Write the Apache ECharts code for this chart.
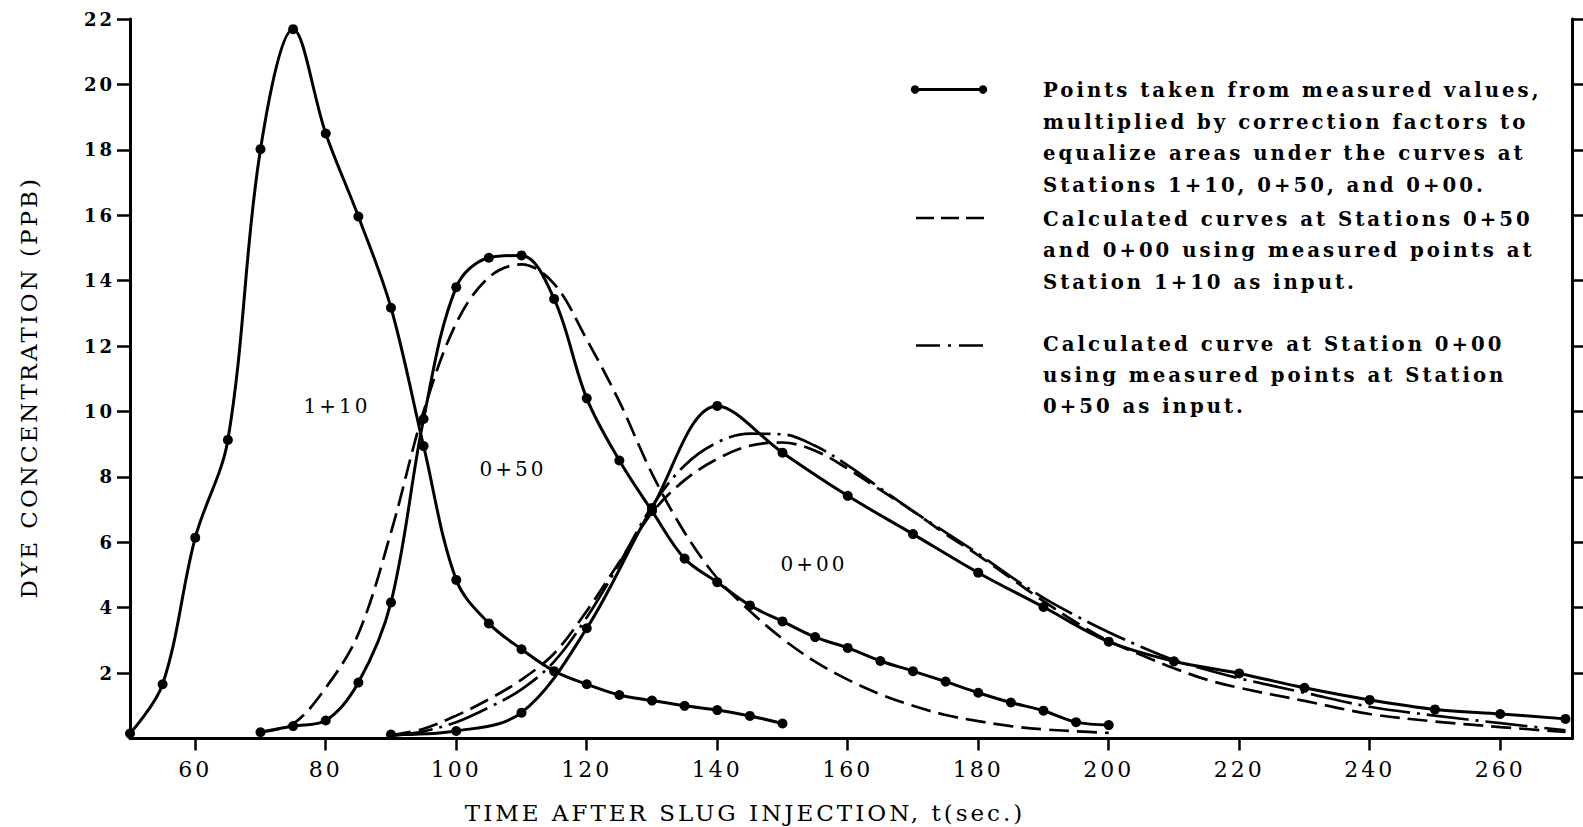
<!DOCTYPE html>
<html>
<head>
<meta charset="utf-8">
<script src="https://cdn.jsdelivr.net/npm/echarts@6/dist/echarts.min.js"></script>
<style>
html, body { margin: 0; padding: 0; background: #fff; }
#chart { width: 1583px; height: 827px; }
#chart text { letter-spacing: 3px; }
</style>
</head>
<body>
<div id="chart"></div>
<script>
// ---- tick labels ----
const xTicks = [60, 80, 100, 120, 140, 160, 180, 200, 220, 240, 260];
const yTicks = [2, 4, 6, 8, 10, 12, 14, 16, 18, 20, 22];

// ---- measured points (solid with dots) ----
const t110 = [50, 55, 60, 65, 70, 75, 80, 85, 90, 95, 100, 105, 110, 115, 120, 125, 130, 135, 140, 145, 150];
const c110 = [0.15, 1.66, 6.14, 9.13, 18.02, 21.69, 18.5, 15.96, 13.17, 8.94, 4.85, 3.52, 2.73, 2.06, 1.66, 1.33, 1.16, 1.0, 0.87, 0.69, 0.46];

const t050 = [70, 75, 80, 85, 90, 95, 100, 105, 110, 115, 120, 125, 130, 135, 140, 145, 150, 155, 160, 165, 170, 175, 180, 185, 190, 195, 200];
const c050 = [0.19, 0.38, 0.55, 1.71, 4.16, 9.77, 13.8, 14.7, 14.77, 13.44, 10.4, 8.5, 6.96, 5.5, 4.78, 4.07, 3.58, 3.1, 2.77, 2.37, 2.06, 1.74, 1.4, 1.1, 0.85, 0.5, 0.41];

const t000 = [90, 100, 110, 120, 130, 140, 150, 160, 170, 180, 190, 200, 210, 220, 230, 240, 250, 260, 270];
const c000 = [0.12, 0.23, 0.79, 3.37, 7.05, 10.17, 8.74, 7.42, 6.25, 5.07, 4.02, 2.96, 2.36, 1.99, 1.55, 1.18, 0.89, 0.75, 0.6];

// ---- calculated curves from Station 1+10 input (dashed) ----
const tCalc050 = [70, 75, 80, 85, 90, 95, 100, 105, 110, 115, 120, 125, 130, 135, 140, 145, 150, 155, 160, 165, 170, 175, 180, 185, 190, 195, 200];
const cCalc050 = [0.2, 0.45, 1.55, 3.2, 6.3, 10.0, 12.7, 14.1, 14.5, 13.9, 12.2, 10.3, 8.1, 6.3, 4.9, 3.9, 3.05, 2.35, 1.8, 1.35, 1.0, 0.72, 0.53, 0.38, 0.28, 0.22, 0.17];

const tCalc000 = [90, 95, 100, 105, 110, 115, 120, 125, 130, 135, 140, 145, 150, 155, 160, 165, 170, 175, 180, 185, 190, 195, 200, 205, 210, 215, 220, 230, 240, 250, 260, 270];
const cCalc000 = [0.1, 0.3, 0.7, 1.2, 1.8, 2.6, 3.9, 5.4, 6.9, 7.9, 8.55, 8.95, 9.05, 8.8, 8.25, 7.6, 6.95, 6.25, 5.6, 4.9, 4.2, 3.55, 2.98, 2.55, 2.15, 1.8, 1.55, 1.15, 0.75, 0.52, 0.35, 0.2];

// ---- calculated curve from Station 0+50 input (dash-dot) ----
const tCalc000b = [90, 95, 100, 105, 110, 115, 120, 125, 130, 135, 140, 145, 150, 155, 160, 165, 170, 175, 180, 185, 190, 195, 200, 205, 210, 215, 220, 230, 240, 250, 260, 270];
const cCalc000b = [0.08, 0.22, 0.5, 0.95, 1.5, 2.35, 3.7, 5.35, 7.1, 8.35, 9.05, 9.32, 9.3, 8.95, 8.35, 7.65, 6.95, 6.3, 5.65, 4.95, 4.3, 3.75, 3.25, 2.8, 2.4, 2.1, 1.84, 1.4, 0.97, 0.7, 0.47, 0.25];

// ---- texts ----
const legendLines1 = ['Points taken from measured values,', 'multiplied by correction factors to', 'equalize areas under the curves at', 'Stations 1+10, 0+50, and 0+00.'];
const legendLines2 = ['Calculated curves at Stations 0+50', 'and 0+00 using measured points at', 'Station 1+10 as input.'];
const legendLines3 = ['Calculated curve at Station 0+00', 'using measured points at Station', '0+50 as input.'];
const curveLabels = ['1+10', '0+50', '0+00'];

function pairs(t, c) { return t.map((v, i) => [v, c[i]]); }

const FONT = 'DejaVu Serif';
const INK = '#000';

const chart = echarts.init(document.getElementById('chart'), null, { renderer: 'svg', width: 1583, height: 827 });

function measured(name, t, c) {
  return {
    name, type: 'line', data: pairs(t, c), smooth: 0.35,
    symbol: 'circle', symbolSize: 10, showSymbol: true, z: 4,
    lineStyle: { color: INK, width: 3 }, itemStyle: { color: INK }
  };
}
function calc(name, t, c, dash) {
  return {
    name, type: 'line', data: pairs(t, c), smooth: 0.35,
    symbol: 'none', z: 3,
    lineStyle: { color: INK, width: 2.7, type: dash }
  };
}

const legendText = [];
function addLines(lines, y0, step) {
  lines.forEach((s, i) => {
    legendText.push({
      type: 'text', x: 1043, y: y0 + i * step,
      style: { text: s, fontSize: 19.7, fontWeight: 'bold', fontFamily: FONT, fill: INK, verticalAlign: 'middle', textVerticalAlign: 'middle' }
    });
  });
}
addLines(legendLines1, 90.5, 31.5);
addLines(legendLines2, 219.5, 31.3);
addLines(legendLines3, 344, 31);

const labelPos = [[337, 405.5], [513, 469], [814, 563.5]];
const inner = curveLabels.map((s, i) => ({
  type: 'text', x: labelPos[i][0], y: labelPos[i][1],
  style: { text: s, fontSize: 20, fontFamily: FONT, fill: INK, align: 'center', textAlign: 'center', verticalAlign: 'middle', textVerticalAlign: 'middle' }
}));

const option = {
  backgroundColor: '#fff',
  animation: false,
  grid: { left: 130, right: 11, top: 19, bottom: 88.5, containLabel: false, outerBoundsMode: 'none' },
  xAxis: {
    type: 'value', min: 50, max: 271,
    axisLine: { show: true, onZero: false, lineStyle: { color: INK, width: 3 } },
    axisTick: { show: true, inside: false, length: 12, customValues: xTicks, lineStyle: { color: INK, width: 2.5 } },
    axisLabel: { show: true, customValues: xTicks, margin: 20, fontSize: 22, fontFamily: FONT, color: INK },
    splitLine: { show: false },
    name: 'TIME AFTER SLUG INJECTION, t(sec.)',
    nameLocation: 'middle', nameGap: 63,
    nameTextStyle: { fontSize: 23, fontFamily: FONT, color: INK, padding: [0, 212, 0, 0] }
  },
  yAxis: [{
    type: 'value', min: 0, max: 22, position: 'left',
    axisLine: { show: true, lineStyle: { color: INK, width: 3 } },
    axisTick: { show: true, inside: false, length: 13, customValues: yTicks, lineStyle: { color: INK, width: 2.5 } },
    axisLabel: { show: true, customValues: yTicks, margin: 15, fontSize: 18, fontWeight: 'bold', fontFamily: FONT, color: INK },
    splitLine: { show: false },
    name: 'DYE CONCENTRATION (PPB)',
    nameLocation: 'middle', nameGap: 90,
    nameTextStyle: { fontSize: 23, fontFamily: FONT, color: INK, padding: [0, 17, 0, 0] }
  }, {
    type: 'value', min: 0, max: 22, position: 'right',
    axisLine: { show: true, lineStyle: { color: INK, width: 3 } },
    axisTick: { show: true, inside: false, length: 11, customValues: yTicks, lineStyle: { color: INK, width: 2.5 } },
    axisLabel: { show: false },
    splitLine: { show: false }
  }],
  series: [
    calc('Calculated 0+50 (from 1+10)', tCalc050, cCalc050, [20, 8]),
    calc('Calculated 0+00 (from 1+10)', tCalc000, cCalc000, [20, 8]),
    calc('Calculated 0+00 (from 0+50)', tCalc000b, cCalc000b, [42, 7, 3, 7]),
    measured('Station 1+10', t110, c110),
    measured('Station 0+50', t050, c050),
    measured('Station 0+00', t000, c000)
  ],
  graphic: [
    { type: 'line', shape: { x1: 915, y1: 89.5, x2: 983, y2: 89.5 }, style: { stroke: INK, lineWidth: 3 } },
    { type: 'circle', shape: { cx: 915, cy: 89.5, r: 4.2 }, style: { fill: INK } },
    { type: 'circle', shape: { cx: 983, cy: 89.5, r: 4.2 }, style: { fill: INK } },
    { type: 'line', shape: { x1: 916, y1: 218, x2: 984, y2: 218 }, style: { stroke: INK, lineWidth: 2.6, lineDash: [18, 7] } },
    { type: 'line', shape: { x1: 916, y1: 345.5, x2: 984, y2: 345.5 }, style: { stroke: INK, lineWidth: 2.6, lineDash: [24, 8, 3, 8] } }
  ].concat(legendText, inner)
};
chart.setOption(option);
</script>
</body>
</html>
